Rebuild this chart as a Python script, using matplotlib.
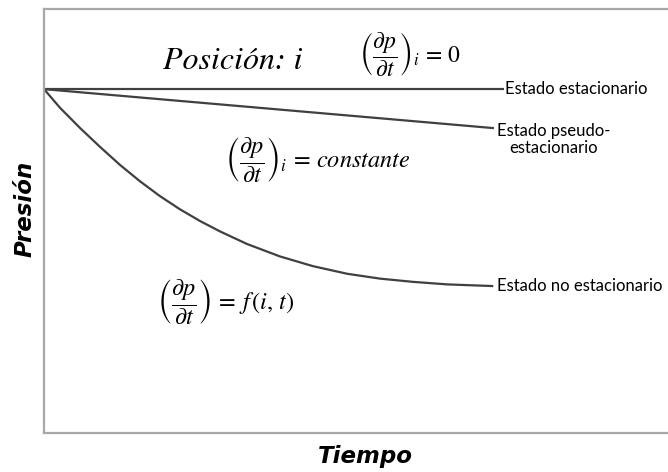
import numpy as np
import matplotlib
matplotlib.use('Agg')
import matplotlib.pyplot as plt

plt.rcParams['mathtext.fontset'] = 'stix'

# time axis in arbitrary units (0..100), pressure in arbitrary units (0..100)
p0 = 81.1

t_steady = [0, 73.7]
p_steady = [p0, p0]

t_pseudo = [0, 72.1]
p_pseudo = [p0, 71.9]

t_trans = [0, 2.6, 5.8, 9.0, 12.2, 15.4, 18.6, 21.8, 25.0, 28.2, 32.5, 37.8,
           43.1, 48.6, 53.9, 59.1, 64.6, 72.0]
p_trans = [p0, 76.65, 71.9, 67.45, 63.2, 59.35, 55.85, 52.75, 50.0, 47.55, 44.6, 41.65,
           39.35, 37.55, 36.4, 35.65, 35.05, 34.65]

line_color = '#404040'
spine_color = '#a8a8a8'
label_font = 'Lato'

fig = plt.figure(figsize=(6.68, 4.72), dpi=100)
ax = fig.add_axes([44 / 668, 1 - 433 / 472, 1 - 44 / 668, (433 - 9) / 472])

ax.plot(t_steady, p_steady, color=line_color, lw=1.6, solid_capstyle='butt')
ax.plot(t_pseudo, p_pseudo, color=line_color, lw=1.6, solid_capstyle='butt')
ax.plot(t_trans, p_trans, color=line_color, lw=1.6, solid_capstyle='butt',
        solid_joinstyle='round')

ax.set_xlim(0, 100)
ax.set_ylim(0, 100)
ax.set_xticks([])
ax.set_yticks([])
ax.spines['right'].set_visible(False)
for s in ['left', 'top', 'bottom']:
  ax.spines[s].set_color(spine_color)
  ax.spines[s].set_linewidth(1.6)

# state labels at line ends
ax.text(73.9, p_steady[-1], 'Estado estacionario', fontsize=12, family=label_font,
        ha='left', va='center')
ax.text(72.6, 69.2, 'Estado pseudo-\nestacionario', fontsize=12, family=label_font,
        ha='left', va='center', multialignment='center', linespacing=1.1)
ax.text(72.6, p_trans[-1], 'Estado no estacionario', fontsize=12, family=label_font,
        ha='left', va='center')

# formulas
ax.text(30.3, 87.5, 'Posición: i', fontsize=23, family='STIXGeneral', style='italic',
        ha='center', va='center')
ax.text(50.5, 89.2, r'$\left(\dfrac{\partial p}{\partial t}\right)_i \,=\, 0$', fontsize=17,
        ha='left', va='center')
ax.text(29.0, 64.6, r'$\left(\dfrac{\partial p}{\partial t}\right)_i \,=\, \mathit{constante}$',
        fontsize=17.5, ha='left', va='center')
ax.text(18.1, 31.0, r'$\left(\dfrac{\partial p}{\partial t}\right) \,=\, f\,(i,\, t)$',
        fontsize=17.5, ha='left', va='center')

fig.text(365 / 668, 1 - 457 / 472, 'Tiempo', fontsize=16.5, family='DejaVu Sans',
         weight='bold', style='italic', ha='center', va='center')
fig.text(25 / 668, 1 - 209 / 472, 'Presión', fontsize=16.5, family='DejaVu Sans',
         weight='bold', style='italic', ha='center', va='center', rotation=90)

fig.savefig('out.png', dpi=100)
